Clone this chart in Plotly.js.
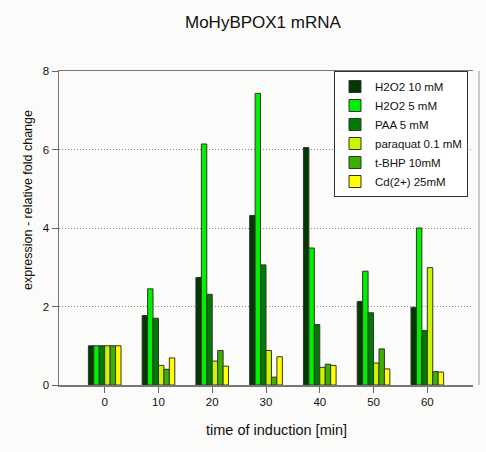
<!DOCTYPE html>
<html><head><meta charset="utf-8">
<script src="https://cdn.plot.ly/plotly-3.0.1.min.js"></script>
<style>html,body{margin:0;padding:0;background:#fbfbf9;}#chart{width:486px;height:452px;}</style>
</head><body><div id="chart"></div>
<script>
const times = [0, 10, 20, 30, 40, 50, 60];
const seriesNames = ["H2O2 10 mM", "H2O2 5 mM", "PAA 5 mM", "paraquat 0.1 mM", "t-BHP 10mM", "Cd(2+) 25mM"];
const h2o2_10 = [1.0, 1.77, 2.74, 4.32, 6.05, 2.13, 1.98];
const h2o2_5  = [1.0, 2.45, 6.14, 7.43, 3.49, 2.90, 4.00];
const paa_5   = [1.0, 1.70, 2.31, 3.06, 1.54, 1.84, 1.39];
const paraquat= [1.0, 0.50, 0.61, 0.88, 0.45, 0.56, 2.99];
const tbhp    = [1.0, 0.40, 0.88, 0.20, 0.53, 0.92, 0.34];
const cd      = [1.0, 0.69, 0.48, 0.72, 0.50, 0.41, 0.33];
const seriesValues = [h2o2_10, h2o2_5, paa_5, paraquat, tbhp, cd];
const colors = ["#003a00", "#00f000", "#007a00", "#ccf500", "#3cb000", "#ffff00"];

const traces = seriesValues.map((v, i) => ({
  type: "bar", x: times, y: v, name: seriesNames[i],
  marker: {color: colors[i], line: {color: "#333", width: 1}}
}));

const layout = {
  width: 486, height: 452,
  paper_bgcolor: "#fbfbf9", plot_bgcolor: "#fbfbf9",
  margin: {l: 59, r: 13, t: 71, b: 67},
  font: {family: "Liberation Sans, Arial, sans-serif", color: "#111"},
  barmode: "group", bargap: 0.393, bargroupgap: 0,
  title: {text: "MoHyBPOX1 mRNA", font: {size: 17, color: "#111"}, xref: "container", x: 0.541, xanchor: "center", yref: "container", y: 1 - 22/452, yanchor: "middle"},
  xaxis: {range: [-8.5, 68.5], tickvals: times, ticktext: times.map(String), ticks: "outside", ticklen: 6, tickcolor: "#666",
          showline: true, linecolor: "#777", linewidth: 1.5, mirror: true, showgrid: false, zeroline: false, tickfont: {size: 11.5}},
  yaxis: {range: [0, 8], tickvals: [0, 2, 4, 6, 8], ticks: "outside", ticklen: 6, tickcolor: "#666",
          showline: true, linecolor: "#777", linewidth: 1.5, showgrid: true, gridcolor: "#888", griddash: "1px,2px", gridwidth: 1,
          zeroline: false, tickfont: {size: 11.5}},
  legend: {x: (334-59)/414, xanchor: "left", y: 1, yanchor: "top", bgcolor: "#ffffff", bordercolor: "#333", borderwidth: 1,
           font: {size: 11.5, color: "#111"}, tracegroupgap: 0, entrywidth: 96, entrywidthmode: "pixels"},
  annotations: [
    {text: "time of induction [min]", xref: "paper", yref: "paper", x: (276-59)/414, y: -(430-385)/314, xanchor: "center", yanchor: "middle", showarrow: false, font: {size: 14.5}},
    {text: "expression - relative fold change", xref: "paper", yref: "paper", x: -(59-28)/414, y: (385-200)/314, xanchor: "center", yanchor: "middle", textangle: -90, showarrow: false, font: {size: 12.5}}
  ],
  shapes: [
    {type: "line", xref: "paper", yref: "paper", x0: (479-59)/414, x1: (479-59)/414, y0: 0, y1: 1, line: {color: "#999", width: 1}}
  ],
  showlegend: true
};
Plotly.newPlot("chart", traces, layout, {displayModeBar: false, staticPlot: true});
</script></body></html>
